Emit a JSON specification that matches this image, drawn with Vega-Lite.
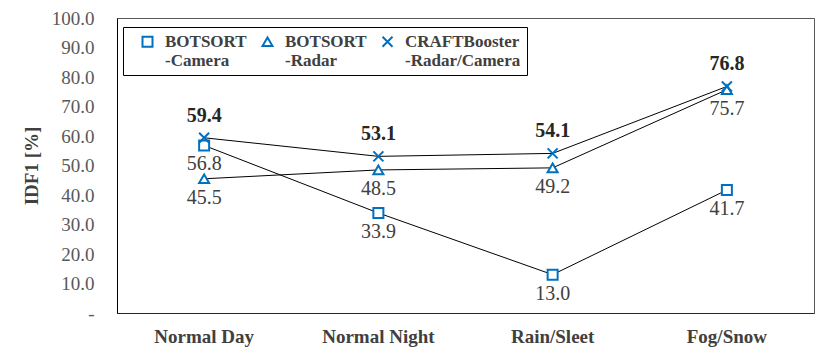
{
  "$schema": "https://vega.github.io/schema/vega-lite/v6.json",
  "width": 697,
  "height": 295,
  "autosize": {"type": "none"},
  "padding": {"left": 117, "top": 18, "right": 16, "bottom": 44},
  "background": "white",
  "config": {
    "font": "Liberation Serif",
    "view": {"stroke": "#595959", "strokeWidth": 1}
  },
  "data": {
    "values": [
      {"cond": "Normal Day", "series": "BOTSORT|-Camera", "v": 56.8},
      {"cond": "Normal Night", "series": "BOTSORT|-Camera", "v": 33.9},
      {"cond": "Rain/Sleet", "series": "BOTSORT|-Camera", "v": 13.0},
      {"cond": "Fog/Snow", "series": "BOTSORT|-Camera", "v": 41.7},
      {"cond": "Normal Day", "series": "BOTSORT|-Radar", "v": 45.5},
      {"cond": "Normal Night", "series": "BOTSORT|-Radar", "v": 48.5},
      {"cond": "Rain/Sleet", "series": "BOTSORT|-Radar", "v": 49.2},
      {"cond": "Fog/Snow", "series": "BOTSORT|-Radar", "v": 75.7},
      {"cond": "Normal Day", "series": "CRAFTBooster|-Radar/Camera", "v": 59.4},
      {"cond": "Normal Night", "series": "CRAFTBooster|-Radar/Camera", "v": 53.1},
      {"cond": "Rain/Sleet", "series": "CRAFTBooster|-Radar/Camera", "v": 54.1},
      {"cond": "Fog/Snow", "series": "CRAFTBooster|-Radar/Camera", "v": 76.8}
    ]
  },
  "encoding": {
    "x": {
      "field": "cond", "type": "nominal",
      "sort": ["Normal Day", "Normal Night", "Rain/Sleet", "Fog/Snow"],
      "scale": {"type": "band", "paddingInner": 0, "paddingOuter": 0},
      "axis": {
        "title": null, "labelAngle": 0, "ticks": false, "domain": true, "domainColor": "#262626",
        "labelFont": "Liberation Serif", "labelFontSize": 19, "labelFontWeight": "bold",
        "labelColor": "#404040", "labelPadding": 14
      }
    },
    "y": {
      "field": "v", "type": "quantitative",
      "scale": {"domain": [0, 100], "nice": false},
      "axis": {
        "title": "IDF1 [%]", "titleFont": "Liberation Serif", "titleFontSize": 19, "titleFontWeight": "bold",
        "titleColor": "#404040", "titlePadding": 10,
        "values": [0, 10, 20, 30, 40, 50, 60, 70, 80, 90, 100],
        "labelExpr": "datum.value == 0 ? '-' : format(datum.value, '.1f')",
        "labelFont": "Liberation Serif", "labelFontSize": 19, "labelColor": "#595959",
        "labelPadding": 23, "ticks": false, "grid": false, "domain": true, "domainColor": "#000000"
      }
    }
  },
  "resolve": {"legend": {"shape": "independent"}},
  "layer": [
    {
      "mark": {"type": "line", "color": "#000000", "strokeWidth": 1},
      "encoding": {"detail": {"field": "series"}}
    },
    {
      "mark": {"type": "point", "filled": true, "color": "white", "opacity": 1, "size": 100},
      "encoding": {
        "shape": {
          "field": "series", "type": "nominal",
          "scale": {
            "domain": ["BOTSORT|-Camera", "BOTSORT|-Radar", "CRAFTBooster|-Radar/Camera"],
            "range": ["square", "triangle-up", "M-1,-1L1,1M-1,1L1,-1"]
          },
          "legend": null
        }
      }
    },
    {
      "mark": {"type": "point", "filled": false, "color": "#0070C0", "strokeWidth": 2, "size": 100, "opacity": 1},
      "encoding": {
        "shape": {
          "field": "series", "type": "nominal",
          "legend": {
            "title": null, "orient": "none", "legendX": 6, "legendY": 9,
            "direction": "horizontal", "columns": 3,
            "padding": 6, "strokeColor": "#000000", "fillColor": "white",
            "labelExpr": "split(datum.label, '|')",
            "labelFont": "Liberation Serif", "labelFontSize": 17, "labelFontWeight": "bold",
            "labelColor": "#404040", "labelLimit": 300, "columnPadding": 2, "labelOffset": 9,
            "symbolOffset": 10, "symbolSize": 100, "symbolStrokeWidth": 2
          }
        }
      }
    },
    {
      "transform": [{"filter": "datum.series != 'CRAFTBooster|-Radar/Camera'"}],
      "mark": {"type": "text", "dy": 19, "fontSize": 20, "color": "#404040", "font": "Liberation Serif"},
      "encoding": {"text": {"field": "v", "type": "quantitative", "format": ".1f"}}
    },
    {
      "transform": [{"filter": "datum.series == 'CRAFTBooster|-Radar/Camera'"}],
      "mark": {"type": "text", "dy": -22, "fontSize": 20, "fontWeight": "bold", "color": "#262626", "font": "Liberation Serif"},
      "encoding": {"text": {"field": "v", "type": "quantitative", "format": ".1f"}}
    }
  ]
}
